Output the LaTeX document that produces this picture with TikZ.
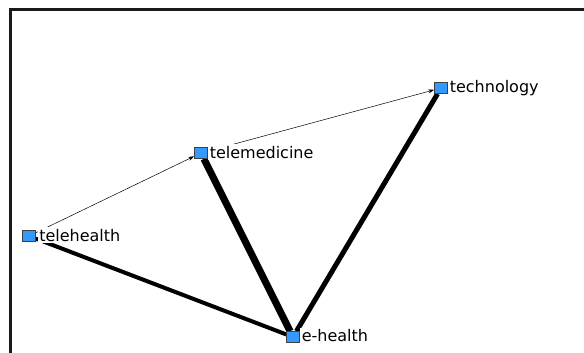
\documentclass[tikz,border=0pt]{standalone}
\usepackage{fontspec}
\setmainfont{DejaVu Sans}
\usetikzlibrary{arrows.meta,positioning,backgrounds}
\definecolor{actorblue}{RGB}{51,153,255}

\begin{document}
\begin{tikzpicture}[x=1bp,y=-1bp,
    actor/.style={draw=black!75,fill=actorblue,minimum width=13bp,minimum height=11bp,inner sep=0pt,line width=0.6bp},
    actorname/.style={anchor=base west,fill=white,inner sep=1.8bp,font=\fontsize{16bp}{19bp}\selectfont},
    tie/.style={line width=0.5bp,-{Stealth[length=6bp,width=4bp]}}]
    \useasboundingbox (0,0) rectangle (584,352);

    % Frame (runs off the right and bottom)
    \draw[line width=2.6bp,black!90] (10.3,9.7) rectangle (600,370);

    % Actors
    \node[actor] (telehealth)   at (29,236) {};
    \node[actor] (telemedicine) at (201,153) {};
    \node[actor] (technology)   at (441,88) {};
    \node[actor] (ehealth)      at (293,337) {};

    % Names (white boxes hide the tie ends)
    \node[actorname] (telehealthname)   at ([xshift=1.5bp,yshift=-5bp]telehealth.east) {telehealth};
    \node[actorname] (telemedicinename) at ([yshift=-5bp]telemedicine.east) {telemedicine};
    \node[actorname] (technologyname)   at ([yshift=-4.7bp]technology.east) {technology};
    \node[actorname] (ehealthname)      at ([yshift=-4.7bp]ehealth.east) {e-health};

    % Ties
    \begin{scope}[on background layer]
        \draw[tie] (telehealth) -- (telemedicine);
        \draw[tie] (telemedicine) -- (technology);
        \draw[line width=4bp] (telehealth) -- (ehealth);
        \draw[line width=7bp] (telemedicine) -- (ehealth);
        \draw[line width=5bp] (technology) -- (ehealth);
    \end{scope}
\end{tikzpicture}
\end{document}
